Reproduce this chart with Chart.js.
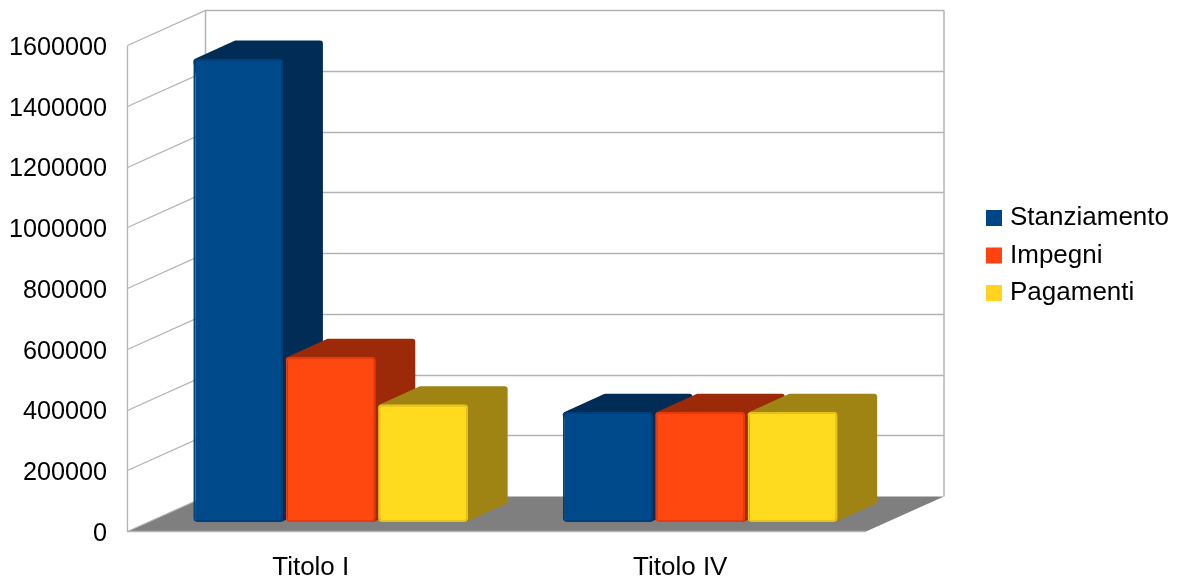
<!DOCTYPE html>
<html>
<head>
<meta charset="utf-8">
<title>Stanziamento, impegni, pagamenti</title>
<script src="https://cdn.jsdelivr.net/npm/chart.js@4"></script>
<style>
  html, body { margin: 0; padding: 0; background: #fff; }
  canvas { display: block; }
</style>
</head>
<body>
<canvas id="Chart" width="1177" height="580"></canvas>
<script>
"use strict";

var categories = ['Titolo I', 'Titolo IV'];
var seriesNames = ['Stanziamento', 'Impegni', 'Pagamenti'];
var stanziamento = [1526000, 363000];
var impegni = [544000, 363000];
var pagamenti = [388000, 363000];

var legendColors = ['#004586', '#ff420e', '#ffd320'];
var faceColors = ['#004a8c', '#ff480f', '#ffdb20'];
var edgeColors = ['#003f7a', '#e63c0d', '#e6c21d'];
var sideColors = ['#002c56', '#9c2a08', '#9f8413'];

var FONT_FAMILY = '"Liberation Sans", Arial, sans-serif';
var GRID = '#b3b3b3';
var FLOOR = '#7f7f7f';

// depth of the walls, and of the bars standing in the middle of the floor
var WALL_X = 78, WALL_Y = 35;
var BAR_X = 39.5, BAR_Y = 18;
var SHIFT_X = 19, SHIFT_Y = 9;

function line(ctx, points) {
  ctx.beginPath();
  points.forEach(function (p, i) {
    if (i === 0) ctx.moveTo(p[0], p[1]);
    else ctx.lineTo(p[0], p[1]);
  });
}

function drawWalls(chart) {
  var ctx = chart.ctx, area = chart.chartArea, y = chart.scales.y;
  var l = area.left + 0.5, r = area.right, b = area.bottom + 0.5, t = area.top + 0.5;

  ctx.save();
  // floor
  line(ctx, [[l, b], [l + WALL_X, b - WALL_Y], [r + WALL_X, b - WALL_Y], [r, b]]);
  ctx.closePath();
  ctx.fillStyle = FLOOR;
  ctx.fill();

  ctx.strokeStyle = GRID;
  ctx.lineWidth = 1.3;

  // one line per tick, along the side wall and then the back wall
  y.ticks.forEach(function (tick) {
    var py = Math.round(y.getPixelForValue(tick.value)) + 0.5;
    if (tick.value === 0) {
      line(ctx, [[l, py], [l + WALL_X, py - WALL_Y]]);
    } else {
      line(ctx, [[l, py], [l + WALL_X, py - WALL_Y], [r + WALL_X, py - WALL_Y]]);
    }
    ctx.stroke();
  });

  line(ctx, [[l, t], [l, b], [r, b]]);
  ctx.stroke();

  ctx.lineWidth = 1.5;
  line(ctx, [[l + WALL_X, t - WALL_Y], [l + WALL_X, b - WALL_Y]]);
  ctx.stroke();
  line(ctx, [[r + WALL_X, t - WALL_Y], [r + WALL_X, b - WALL_Y]]);
  ctx.stroke();
  ctx.restore();
}

// top and right side of a bar, rounded by stroking an inset outline
function drawBarDepth(ctx, bar, color) {
  var r = 3;
  var left = bar.x - bar.width / 2, right = bar.x + bar.width / 2;
  var top = bar.y, base = bar.base;

  ctx.save();
  line(ctx, [
    [left + r, top + r],
    [left + BAR_X + r, top - BAR_Y + r],
    [right + BAR_X - r, top - BAR_Y + r],
    [right + BAR_X - r, base - BAR_Y - r],
    [right - r, base - r]
  ]);
  ctx.closePath();
  ctx.fillStyle = color;
  ctx.strokeStyle = color;
  ctx.lineWidth = r * 2;
  ctx.lineJoin = 'round';
  ctx.fill();
  ctx.stroke();
  ctx.restore();
}

var boxes3d = {
  id: 'boxes3d',
  afterLayout: function (chart) {
    // the legend sits in the free space right of the back wall
    var legend = chart.legend;
    legend.left = 979.5;
    legend.right = 1177;
    legend.top = 193.5;
    legend.bottom = 320;
  },
  beforeDatasetsDraw: function (chart) {
    var ctx = chart.ctx;
    drawWalls(chart);

    // series painted first to last, so each bar covers the side of the one before
    ctx.save();
    ctx.translate(SHIFT_X, -SHIFT_Y);
    chart.data.datasets.forEach(function (ds, i) {
      chart.getDatasetMeta(i).data.forEach(function (bar) {
        drawBarDepth(ctx, bar, sideColors[i]);
        bar.draw(ctx);
      });
    });
    ctx.restore();
    return false;
  }
};

var ctx = document.getElementById('Chart').getContext('2d');
var chart = new Chart(ctx, {
  type: 'bar',
  plugins: [boxes3d],
  data: {
    labels: categories,
    datasets: [stanziamento, impegni, pagamenti].map(function (values, i) {
      return {
        label: seriesNames[i],
        data: values,
        backgroundColor: faceColors[i],
        borderColor: edgeColors[i],
        borderWidth: 2,
        borderRadius: 4,
        borderSkipped: false,
        categoryPercentage: 0.75,
        barPercentage: 0.975
      };
    })
  },
  options: {
    responsive: false,
    animation: false,
    devicePixelRatio: 1,
    layout: {
      autoPadding: false,
      padding: { left: 0, top: 45, right: 311, bottom: 0 }
    },
    plugins: {
      tooltip: { enabled: false },
      legend: {
        position: 'chartArea',
        align: 'start',
        labels: {
          color: '#000',
          font: { family: FONT_FAMILY, size: 26 },
          boxWidth: 6,
          boxHeight: 6,
          padding: 11.5,
          // thick stroke makes a 16px swatch and keeps the text close to it
          generateLabels: function (c) {
            return c.data.datasets.map(function (ds, i) {
              return {
                text: ds.label,
                fontColor: '#000',
                fillStyle: legendColors[i],
                strokeStyle: legendColors[i],
                lineWidth: 10,
                datasetIndex: i
              };
            });
          }
        }
      }
    },
    scales: {
      x: {
        grid: { display: false },
        border: { display: false },
        afterFit: function (scale) { scale.height = 49; },
        ticks: {
          color: '#000',
          font: { family: FONT_FAMILY, size: 26 },
          padding: 13,
          labelOffset: -1,
          maxRotation: 0
        }
      },
      y: {
        min: 0,
        max: 1600000,
        grid: { display: false },
        border: { display: false },
        afterFit: function (scale) { scale.width = 127; },
        ticks: {
          stepSize: 200000,
          color: '#000',
          font: { family: FONT_FAMILY, size: 25.2 },
          padding: 12,
          labelOffset: 3,
          callback: function (value) { return String(value); }
        }
      }
    }
  }
});
</script>
</body>
</html>
